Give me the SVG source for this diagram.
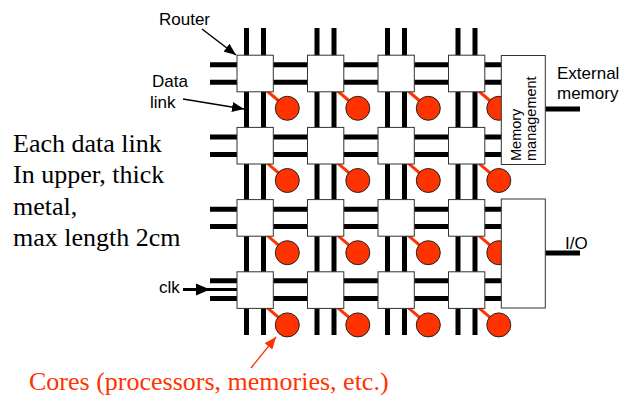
<svg xmlns="http://www.w3.org/2000/svg" width="625" height="398" viewBox="0 0 625 398">
<defs>
<style>
.link{stroke:#000;stroke-width:5;fill:none}
.tap{stroke:#FF3300;stroke-width:3}
.router{fill:#fff;stroke:#333;stroke-width:1}
.core{fill:#FF3300;stroke:#222;stroke-width:1}
.box{fill:#fff;stroke:#333;stroke-width:1}
.lbl{font-family:"Liberation Sans",Arial,sans-serif;font-size:17px;fill:#000}
.small{font-family:"Liberation Sans",Arial,sans-serif;font-size:14.5px;fill:#000}
.serif{font-family:"Liberation Serif","Times New Roman",serif;font-size:26px;fill:#000}
.ptr{stroke:#000;stroke-width:1.5;fill:none}
</style>
<marker id="ah" viewBox="0 0 12 10" refX="12" refY="5" markerWidth="12" markerHeight="10" markerUnits="userSpaceOnUse" orient="auto"><path d="M0,0 L12,5 L0,10 z" fill="#000"/></marker>
<marker id="ahr" viewBox="0 0 12 10" refX="12" refY="5" markerWidth="12" markerHeight="10" markerUnits="userSpaceOnUse" orient="auto"><path d="M0,0 L12,5 L0,10 z" fill="#FF3300"/></marker>
</defs>
<rect width="625" height="398" fill="#fff"/>
<g id="connectors">
<g id="data-links">
<line class="link" x1="246.5" y1="28" x2="246.5" y2="335"/><line class="link" x1="263.5" y1="28" x2="263.5" y2="335"/>
<line class="link" x1="317" y1="28" x2="317" y2="335"/><line class="link" x1="334" y1="28" x2="334" y2="335"/>
<line class="link" x1="387.5" y1="28" x2="387.5" y2="335"/><line class="link" x1="404.5" y1="28" x2="404.5" y2="335"/>
<line class="link" x1="458" y1="28" x2="458" y2="335"/><line class="link" x1="475" y1="28" x2="475" y2="335"/>
<line class="link" x1="210" y1="64.8" x2="502" y2="64.8"/><line class="link" x1="210" y1="82.2" x2="502" y2="82.2"/>
<line class="link" x1="210" y1="137" x2="502" y2="137"/><line class="link" x1="210" y1="154.4" x2="502" y2="154.4"/>
<line class="link" x1="210" y1="209.2" x2="502" y2="209.2"/><line class="link" x1="210" y1="226.6" x2="502" y2="226.6"/>
<line class="link" x1="210" y1="280.8" x2="502" y2="280.8"/><line class="link" x1="210" y1="298.6" x2="502" y2="298.6"/>
<line class="link" x1="545" y1="109" x2="580" y2="109"/>
<line class="link" x1="545" y1="253" x2="580" y2="253"/>
</g>
<g id="core-taps">
<line class="tap" x1="263" y1="87.5" x2="280" y2="102"/><line class="tap" x1="333.5" y1="87.5" x2="350.5" y2="102"/><line class="tap" x1="404" y1="87.5" x2="421" y2="102"/><line class="tap" x1="474.5" y1="87.5" x2="491.5" y2="102"/>
<line class="tap" x1="263" y1="159.7" x2="280" y2="174.2"/><line class="tap" x1="333.5" y1="159.7" x2="350.5" y2="174.2"/><line class="tap" x1="404" y1="159.7" x2="421" y2="174.2"/><line class="tap" x1="474.5" y1="159.7" x2="491.5" y2="174.2"/>
<line class="tap" x1="263" y1="231.9" x2="280" y2="246.4"/><line class="tap" x1="333.5" y1="231.9" x2="350.5" y2="246.4"/><line class="tap" x1="404" y1="231.9" x2="421" y2="246.4"/><line class="tap" x1="474.5" y1="231.9" x2="491.5" y2="246.4"/>
<line class="tap" x1="263" y1="304.1" x2="280" y2="318.6"/><line class="tap" x1="333.5" y1="304.1" x2="350.5" y2="318.6"/><line class="tap" x1="404" y1="304.1" x2="421" y2="318.6"/><line class="tap" x1="474.5" y1="304.1" x2="491.5" y2="318.6"/>
</g>
<g id="clk-line">
<line x1="183" y1="289.5" x2="238" y2="289.5" stroke="#000" stroke-width="3"/>
<polygon points="196,283.5 210,289.5 196,295.5" fill="#000"/>
</g>
</g>
<g id="cores">
<circle class="core" cx="287.3" cy="108.3" r="12"/><circle class="core" cx="357.8" cy="108.3" r="12"/><circle class="core" cx="428.3" cy="108.3" r="12"/><circle class="core" cx="498.8" cy="108.3" r="12"/>
<circle class="core" cx="287.3" cy="180.5" r="12"/><circle class="core" cx="357.8" cy="180.5" r="12"/><circle class="core" cx="428.3" cy="180.5" r="12"/><circle class="core" cx="498.8" cy="180.5" r="12"/>
<circle class="core" cx="287.3" cy="252.7" r="12"/><circle class="core" cx="357.8" cy="252.7" r="12"/><circle class="core" cx="428.3" cy="252.7" r="12"/><circle class="core" cx="498.8" cy="252.7" r="12"/>
<circle class="core" cx="287.3" cy="324.9" r="12"/><circle class="core" cx="357.8" cy="324.9" r="12"/><circle class="core" cx="428.3" cy="324.9" r="12"/><circle class="core" cx="498.8" cy="324.9" r="12"/>
</g>
<g id="routers">
<rect id="r11" class="router" x="237" y="55.2" width="36.3" height="36.6"/><rect id="r12" class="router" x="307.5" y="55.2" width="36.3" height="36.6"/><rect id="r13" class="router" x="378" y="55.2" width="36.3" height="36.6"/><rect id="r14" class="router" x="448.5" y="55.2" width="36.3" height="36.6"/>
<rect id="r21" class="router" x="237" y="127.4" width="36.3" height="36.6"/><rect id="r22" class="router" x="307.5" y="127.4" width="36.3" height="36.6"/><rect id="r23" class="router" x="378" y="127.4" width="36.3" height="36.6"/><rect id="r24" class="router" x="448.5" y="127.4" width="36.3" height="36.6"/>
<rect id="r31" class="router" x="237" y="199.6" width="36.3" height="36.6"/><rect id="r32" class="router" x="307.5" y="199.6" width="36.3" height="36.6"/><rect id="r33" class="router" x="378" y="199.6" width="36.3" height="36.6"/><rect id="r34" class="router" x="448.5" y="199.6" width="36.3" height="36.6"/>
<rect id="r41" class="router" x="237" y="271.8" width="36.3" height="36.6"/><rect id="r42" class="router" x="307.5" y="271.8" width="36.3" height="36.6"/><rect id="r43" class="router" x="378" y="271.8" width="36.3" height="36.6"/><rect id="r44" class="router" x="448.5" y="271.8" width="36.3" height="36.6"/>
</g>
<g id="memory-management">
<rect class="box" x="501.3" y="55.5" width="44" height="109"/>
<text class="small" transform="translate(520.5,161) rotate(-90)">Memory</text>
<text class="small" transform="translate(536.2,161) rotate(-90)">management</text>
</g>
<g id="io">
<rect class="box" x="501.3" y="199" width="44" height="109"/>
</g>
<g id="labels">
<text class="lbl" x="159" y="25">Router</text>
<line class="ptr" x1="202" y1="29" x2="236" y2="55" marker-end="url(#ah)"/>
<text class="lbl" x="152" y="87">Data</text>
<text class="lbl" x="150" y="108">link</text>
<line class="ptr" x1="183" y1="99" x2="244" y2="109" marker-end="url(#ah)"/>
<text class="lbl" x="557" y="79">External</text>
<text class="lbl" x="557" y="99">memory</text>
<text class="lbl" x="565" y="249">I/O</text>
<text class="lbl" x="159" y="293">clk</text>
<text class="serif" x="13" y="152">Each data link</text>
<text class="serif" x="13" y="183">In upper, thick</text>
<text class="serif" x="13" y="214.5">metal,</text>
<text class="serif" x="13" y="246">max length 2cm</text>
<line x1="251" y1="368" x2="276" y2="337" stroke="#FF3300" stroke-width="1.3" marker-end="url(#ahr)"/>
<text class="serif" x="29" y="390" fill="#FF3300" style="fill:#FF3300">Cores (processors, memories, etc.)</text>
</g>
</svg>
